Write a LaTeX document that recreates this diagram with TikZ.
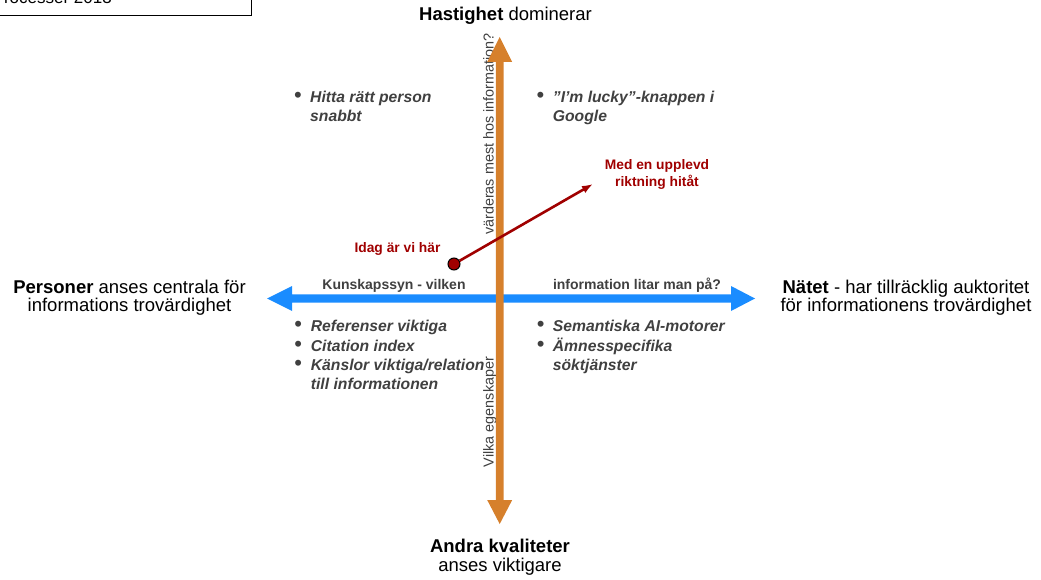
\documentclass[tikz,border=0pt]{standalone}
\usepackage{fontspec}
\setmainfont{Liberation Sans}
\usetikzlibrary{arrows.meta}
\definecolor{axorange}{RGB}{214,128,44}
\definecolor{axblue}{RGB}{26,140,255}
\definecolor{dred}{RGB}{160,0,0}
\definecolor{tgray}{RGB}{64,64,64}
\begin{document}
\begin{tikzpicture}[x=1pt,y=-1pt,
 big/.style={anchor=base, inner sep=0, font=\fontsize{18.5}{20}\selectfont},
 item/.style={anchor=base west, inner sep=0, text=tgray, font=\fontsize{15.7}{19}\selectfont\bfseries\itshape},
 bul/.style={anchor=base, inner sep=0, text=tgray, text height=10pt, text depth=0pt, font=\fontsize{22}{22}\selectfont},
 axlab/.style={anchor=base, inner sep=0, text=tgray, font=\fontsize{14}{16}\selectfont\bfseries},
 vlab/.style={anchor=base, inner sep=0, rotate=90, text=tgray, font=\fontsize{14.4}{16}\selectfont},
 redlab/.style={anchor=base, inner sep=0, text=dred, font=\fontsize{13.8}{16}\selectfont\bfseries},
]
\useasboundingbox (0,0) rectangle (1041,580);

% top-left box (cut off at the picture's edge, as in the reference)
\node[draw=black, line width=0.8pt, anchor=south east, minimum width=300pt, minimum height=40pt, inner sep=0] (box) at (252,16) {};
\node[anchor=base east, inner sep=0, font=\fontsize{17}{19}\selectfont] (boxtxt) at (112,4) {Processer 2013};

% horizontal blue double arrow
\fill[axblue] (267,298.5) -- (292,286) -- (292,294.3) -- (731,294.3) -- (731,286) -- (755,298.5)
  -- (731,311) -- (731,302.7) -- (292,302.7) -- (292,311) -- cycle;

% rotated axis labels
\node[vlab] (vtop) at (493.5,134) {värderas mest hos information?};
\node[vlab] (vbot) at (493.5,412) {Vilka egenskaper};

% vertical orange double arrow
\fill[axorange] (499.7,37) -- (512.2,62) -- (503.5,62) -- (503.5,500) -- (512.2,500) -- (499.7,524)
  -- (487.2,500) -- (495.9,500) -- (495.9,62) -- (487.2,62) -- cycle;

% horizontal axis labels
\node[axlab] (hl) at (394,289.5) {Kunskapssyn - vilken};
\node[axlab] (hr) at (637,289.5) {information litar man på?};

% end labels
\node[big] (top) at (505.5,21) {\textbf{Hastighet} dominerar};
\node[big] (bot1) at (500,552) {\textbf{Andra kvaliteter}};
\node[big] (bot2) at (500,571.5) {anses viktigare};
\node[big] (l1) at (129.5,293) {\textbf{Personer} anses centrala för};
\node[big] (l2) at (129.5,311.5) {informations trovärdighet};
\node[big] (r1) at (906,293) {\textbf{Nätet} - har tillräcklig auktoritet};
\node[big] (r2) at (906,311.5) {för informationens trovärdighet};

% bullet lists
\node[bul] (b1) at (298,102.7) {•};
\node[item] (t1a) at (310,102.7) {Hitta rätt person};
\node[item] (t1b) at (310,121.7) {snabbt};

\node[bul] (b2) at (540.5,102.7) {•};
\node[item] (t2a) at (552.7,102.7) {”I’m lucky”-knappen i};
\node[item] (t2b) at (552.7,121.7) {Google};

\node[bul] (b3) at (298.3,331.7) {•};
\node[item] (t3) at (310.7,331.7) {Referenser viktiga};
\node[bul] (b4) at (298.3,351) {•};
\node[item] (t4) at (310.7,351) {Citation index};
\node[bul] (b5) at (298.3,370.3) {•};
\node[item] (t5a) at (310.7,370.3) {Känslor viktiga/relation};
\node[item] (t5b) at (310.7,389.5) {till informationen};

\node[bul] (b6) at (540.7,331.7) {•};
\node[item] (t6) at (552.7,331.7) {Semantiska AI-motorer};
\node[bul] (b7) at (540.7,351) {•};
\node[item] (t7a) at (552.7,351) {Ämnesspecifika};
\node[item] (t7b) at (552.7,370.3) {söktjänster};

% red arrow
\node[redlab] (idag) at (397.5,252) {Idag är vi här};
\node[redlab] (med1) at (657,169.5) {Med en upplevd};
\node[redlab] (med2) at (657,186) {riktning hitåt};
\node[circle, fill=dred, draw=black, line width=1pt, minimum size=12pt, inner sep=0] (dot) at (454,264) {};
\coordinate (tip) at (593,184);
\draw[dred, line width=2.6pt, -{Latex[length=11pt,width=8pt]}] (dot) -- (tip);
\end{tikzpicture}
\end{document}
